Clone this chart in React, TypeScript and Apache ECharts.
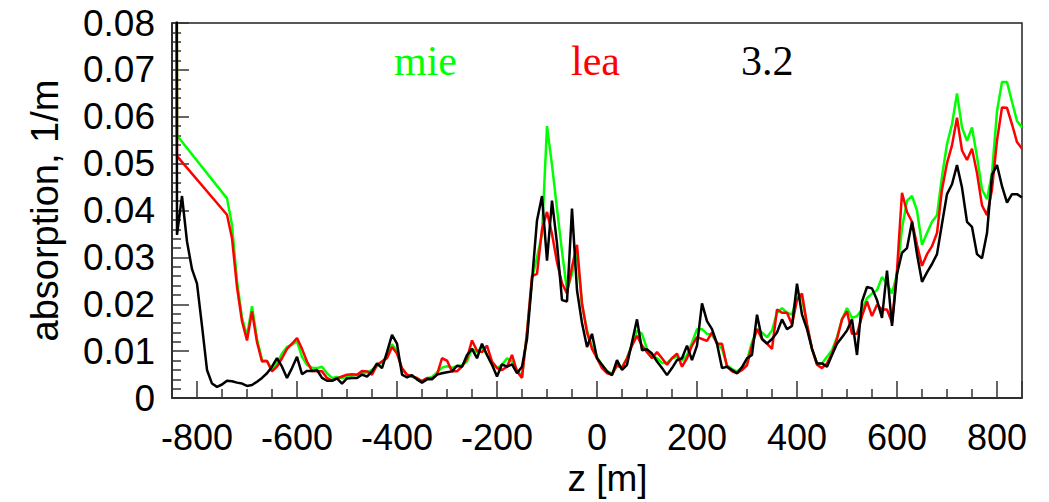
import React, { useEffect, useRef } from "react";
import * as echarts from "echarts";

// z positions [m], sampling every 10 m
const zValues = [
  -850, -840, -830, -820, -810, -800, -790, -780, -770, -760, -750, -740, -730, -720, -710, -700,
  -690, -680, -670, -660, -650, -640, -630, -620, -610, -600, -590, -580, -570, -560, -550, -540,
  -530, -520, -510, -500, -490, -480, -470, -460, -450, -440, -430, -420, -410, -400, -390, -380,
  -370, -360, -350, -340, -330, -320, -310, -300, -290, -280, -270, -260, -250, -240, -230, -220,
  -210, -200, -190, -180, -170, -160, -150, -140, -130, -120, -110, -100, -90, -80, -70, -60,
  -50, -40, -30, -20, -10, 0, 10, 20, 30, 40, 50, 60, 70, 80, 90, 100,
  110, 120, 130, 140, 150, 160, 170, 180, 190, 200, 210, 220, 230, 240, 250, 260,
  270, 280, 290, 300, 310, 320, 330, 340, 350, 360, 370, 380, 390, 400, 410, 420,
  430, 440, 450, 460, 470, 480, 490, 500, 510, 520, 530, 540, 550, 560, 570, 580,
  590, 600, 610, 620, 630, 640, 650, 660, 670, 680, 690, 700, 710, 720, 730, 740,
  750, 760, 770, 780, 790, 800, 810, 820, 830, 840, 850,
];

// "mie" (green)
const mieValues = [
  1.0, 0.056, null, null, null, null, null, null, null, null, null, 0.0426, 0.0369, 0.025, 0.0171, 0.0133,
  0.0196, 0.0126, 0.0081, 0.0079, 0.006, 0.0074, 0.0095, 0.0109, 0.0114, 0.0121, 0.0088, 0.0071, 0.0065, 0.0064, 0.0067, 0.0053,
  0.0043, 0.0045, 0.0043, 0.0045, 0.0048, 0.005, 0.0053, 0.0055, 0.006, 0.0068, 0.0078, 0.0088, 0.0115, 0.01, 0.006, 0.005,
  0.0046, 0.004, 0.0037, 0.0042, 0.0045, 0.0055, 0.0065, 0.0068, 0.0065, 0.0068, 0.007, 0.0078, 0.0105, 0.0098, 0.011, 0.0092,
  0.0074, 0.0064, 0.0071, 0.0085, 0.0078, 0.006, 0.0046, 0.014, 0.0255, 0.03, 0.035, 0.058, 0.0497, 0.0404, 0.0313, 0.023,
  0.0265, 0.031, 0.02, 0.0145, 0.011, 0.0088, 0.007, 0.0057, 0.0052, 0.0068, 0.0066, 0.0085, 0.0115, 0.0144, 0.0137, 0.0105,
  0.009, 0.0085, 0.0075, 0.0075, 0.0085, 0.0088, 0.008, 0.0092, 0.0118, 0.0147, 0.0147, 0.0137, 0.0135, 0.0118, 0.0105, 0.007,
  0.0062, 0.0057, 0.0064, 0.0081, 0.0119, 0.0147, 0.014, 0.013, 0.0144, 0.0182, 0.0192, 0.0182, 0.0178, 0.0216, 0.0213, 0.0157,
  0.0105, 0.0074, 0.0074, 0.0088, 0.0102, 0.013, 0.0168, 0.0192, 0.0171, 0.0175, 0.0189, 0.0213, 0.0223, 0.023, 0.0258, 0.0244,
  0.0223, 0.0265, 0.0362, 0.0421, 0.0431, 0.04, 0.0327, 0.0352, 0.0376, 0.039, 0.0473, 0.0542, 0.0584, 0.065, 0.0577, 0.0549,
  0.0577, 0.0515, 0.0445, 0.0424, 0.048, 0.0612, 0.0674, 0.0674, 0.0632, 0.0591, 0.0577,
];

// "lea" (red)
const leaValues = [
  1.0, 0.0516, null, null, null, null, null, null, null, null, null, 0.0391, 0.0341, 0.0237, 0.0164, 0.0123,
  0.0185, 0.0119, 0.0078, 0.0079, 0.0057, 0.0067, 0.0085, 0.0105, 0.0116, 0.0128, 0.0105, 0.0078, 0.0058, 0.0057, 0.0057, 0.0043,
  0.0037, 0.0042, 0.0046, 0.005, 0.0051, 0.005, 0.0058, 0.0057, 0.005, 0.0071, 0.0078, 0.0085, 0.0109, 0.0095, 0.0064, 0.005,
  0.0046, 0.0043, 0.0036, 0.0043, 0.0042, 0.005, 0.0085, 0.008, 0.0057, 0.0057, 0.0067, 0.0085, 0.0123, 0.0101, 0.0098, 0.0112,
  0.0078, 0.0064, 0.006, 0.0067, 0.0092, 0.0057, 0.0043, 0.014, 0.026, 0.0265, 0.036, 0.0397, 0.035, 0.029, 0.0245, 0.0223,
  0.028, 0.0327, 0.0202, 0.014, 0.0105, 0.0085, 0.0064, 0.0053, 0.005, 0.0071, 0.0064, 0.0085, 0.0112, 0.0133, 0.0112, 0.0098,
  0.0085, 0.0098, 0.0085, 0.0071, 0.0085, 0.0095, 0.0067, 0.0085, 0.0112, 0.013, 0.0126, 0.0122, 0.014, 0.0116, 0.0116, 0.0067,
  0.0057, 0.0053, 0.006, 0.007, 0.0112, 0.0147, 0.0126, 0.0116, 0.0105, 0.0189, 0.0182, 0.0182, 0.0157, 0.0209, 0.0223, 0.0157,
  0.0105, 0.0071, 0.0064, 0.0074, 0.0095, 0.0126, 0.0168, 0.0185, 0.0137, 0.0137, 0.0175, 0.0206, 0.0175, 0.0199, 0.0189, 0.0189,
  0.0161, 0.0272, 0.0438, 0.0397, 0.0376, 0.0327, 0.0282, 0.0307, 0.0324, 0.0352, 0.0445, 0.0501, 0.0539, 0.0598, 0.0528, 0.0508,
  0.0532, 0.048, 0.0411, 0.039, 0.0445, 0.0549, 0.062, 0.0619, 0.0584, 0.0546, 0.0532,
];

// "3.2" (black)
const v32Values = [
  1.0, 0.0348, 0.0431, 0.0334, 0.0275, 0.0244, 0.0154, 0.006, 0.0031, 0.0024, 0.0029, 0.0037, 0.0036, 0.0033, 0.0031, 0.0026,
  0.0028, 0.0035, 0.0043, 0.0053, 0.0067, 0.0085, 0.0067, 0.0043, 0.0064, 0.0088, 0.0051, 0.0058, 0.0058, 0.006, 0.0043, 0.0037,
  0.0037, 0.0042, 0.0031, 0.0042, 0.0043, 0.0043, 0.005, 0.0046, 0.0057, 0.0074, 0.0064, 0.0098, 0.0135, 0.0116, 0.005, 0.0044,
  0.0049, 0.004, 0.0033, 0.004, 0.004, 0.005, 0.0053, 0.0055, 0.0057, 0.0069, 0.0067, 0.0092, 0.0105, 0.0085, 0.0116, 0.0092,
  0.0071, 0.0046, 0.0072, 0.0067, 0.0072, 0.0053, 0.0067, 0.0126, 0.025, 0.0379, 0.0431, 0.0293, 0.0421, 0.033, 0.0209, 0.0206,
  0.0404, 0.023, 0.016, 0.0109, 0.0137, 0.0085, 0.0071, 0.0057, 0.0049, 0.0081, 0.006, 0.0071, 0.0119, 0.0168, 0.0102, 0.0104,
  0.0095, 0.0078, 0.0064, 0.0049, 0.0064, 0.0081, 0.0085, 0.0112, 0.0081, 0.0112, 0.0202, 0.0164, 0.0147, 0.0116, 0.0064, 0.0067,
  0.006, 0.0053, 0.0066, 0.0085, 0.0092, 0.0178, 0.0126, 0.0116, 0.0126, 0.014, 0.0168, 0.0147, 0.0154, 0.0244, 0.0178, 0.0147,
  0.0105, 0.0074, 0.0074, 0.0067, 0.0092, 0.0116, 0.013, 0.0144, 0.0168, 0.0092, 0.0206, 0.0237, 0.0234, 0.0209, 0.0171, 0.0272,
  0.0154, 0.0265, 0.031, 0.032, 0.0376, 0.0307, 0.0248, 0.0268, 0.0286, 0.0307, 0.0372, 0.0435, 0.0456, 0.0497, 0.0449, 0.0376,
  0.0365, 0.0307, 0.0298, 0.0352, 0.0476, 0.0497, 0.0452, 0.0417, 0.0435, 0.0435, 0.0428,
];

const seriesNames = ["mie", "lea", "3.2"];
const seriesColors = ["#00ff00", "#ff0000", "#000000"];

const toPairs = (vals: (number | null)[]) => zValues.map((z, i) => [z, vals[i]]);

export default function App() {
  const ref = useRef<HTMLDivElement>(null);

  useEffect(() => {
    document.body.style.margin = "0";
    if (!ref.current) return;
    const chart = echarts.init(ref.current, null, { renderer: "svg" });
    const sans = "'Liberation Sans', Arial, Helvetica, sans-serif";
    const serif = "'Liberation Serif', 'Times New Roman', serif";
    const allValues = [mieValues, leaValues, v32Values];

    chart.setOption({
      animation: false,
      backgroundColor: "#ffffff",
      grid: {
        left: 172,
        right: 27,
        top: 23,
        bottom: 95,
        show: true,
        borderColor: "#222",
        borderWidth: 1.5,
        backgroundColor: "transparent",
      },
      xAxis: {
        type: "value",
        min: -850,
        max: 850,
        splitNumber: 8,
        minInterval: 200,
        maxInterval: 200,
        name: "z [m]",
        nameLocation: "middle",
        nameGap: 50,
        nameTextStyle: {
          fontFamily: sans,
          fontSize: 37,
          color: "#000",
          padding: [0, 0, 0, 21],
        },
        axisLine: { show: true, onZero: false, lineStyle: { color: "#222", width: 1.5 } },
        axisTick: { show: true, inside: true, length: 17, lineStyle: { color: "#333", width: 1.5 } },
        minorTick: { show: true, splitNumber: 4, length: 9, lineStyle: { color: "#333", width: 1.5 } },
        splitLine: { show: false },
        minorSplitLine: { show: false },
        axisLabel: {
          fontFamily: sans,
          fontSize: 36,
          color: "#000",
          margin: 21,
          formatter: (v: number) => (Math.abs(v % 200) < 1e-6 ? String(v) : ""),
        },
      },
      yAxis: {
        type: "value",
        min: 0,
        max: 0.08,
        interval: 0.01,
        name: "absorption, 1/m",
        nameLocation: "middle",
        nameGap: 108,
        nameRotate: 90,
        nameTextStyle: { fontFamily: sans, fontSize: 38, color: "#000" },
        axisLine: { show: true, onZero: false, lineStyle: { color: "#222", width: 1.5 } },
        axisTick: { show: true, inside: true, length: 17, lineStyle: { color: "#333", width: 1.5 } },
        minorTick: { show: true, splitNumber: 5, length: 9, lineStyle: { color: "#333", width: 1.5 } },
        splitLine: { show: false },
        minorSplitLine: { show: false },
        axisLabel: { fontFamily: sans, fontSize: 37, color: "#000", margin: 17 },
      },
      graphic: [
        {
          type: "text",
          left: 394,
          top: 40,
          style: { text: "mie", fill: seriesColors[0], fontFamily: serif, fontSize: 42 },
        },
        {
          type: "text",
          left: 571,
          top: 40,
          style: { text: "lea", fill: seriesColors[1], fontFamily: serif, fontSize: 42 },
        },
        {
          type: "text",
          left: 741,
          top: 40,
          style: { text: "3.2", fill: seriesColors[2], fontFamily: serif, fontSize: 42 },
        },
      ],
      series: seriesNames.map((name, i) => ({
        name,
        type: "line",
        data: toPairs(allValues[i]),
        showSymbol: false,
        symbol: "none",
        connectNulls: true,
        clip: true,
        lineStyle: { color: seriesColors[i], width: 2.5 },
        itemStyle: { color: seriesColors[i] },
        z: 2 + i,
      })),
    });

    return () => chart.dispose();
  }, []);

  return <div ref={ref} style={{ width: 1049, height: 502 }} />;
}
